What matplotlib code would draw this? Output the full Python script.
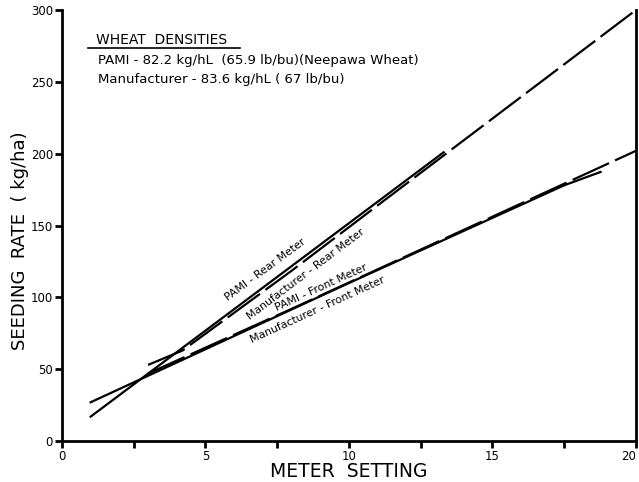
import matplotlib
matplotlib.use("Agg")
import matplotlib.pyplot as plt

# values
pami_rear_x = [1, 13.3]
pami_rear_y = [17, 201]
manu_rear_x = [3, 4.2, 8, 11, 20]
manu_rear_y = [53, 63, 118.5, 164, 300]
pami_front_x = [1, 10, 17.5]
pami_front_y = [27, 110, 178]
pami_front_ext_x = [17.5, 19]
pami_front_ext_y = [178, 189]
manu_front_x = [3, 8, 20]
manu_front_y = [47, 92, 202]

x_ticks = [0, 2.5, 5, 7.5, 10, 12.5, 15, 17.5, 20]
x_tick_labels = ["0", "", "5", "", "10", "", "15", "", "20"]
y_ticks = [0, 50, 100, 150, 200, 250, 300]

density_title = "WHEAT  DENSITIES"
density_lines = ["PAMI - 82.2 kg/hL  (65.9 lb/bu)(Neepawa Wheat)",
                 "Manufacturer - 83.6 kg/hL ( 67 lb/bu)"]

fig = plt.figure(figsize=(6.39, 4.82), dpi=100)
ax = fig.add_axes([0.097, 0.085, 0.898, 0.894])

dash = (18, 3)
ax.plot(pami_rear_x, pami_rear_y, color="black", lw=1.6)
ax.plot(manu_rear_x, manu_rear_y, color="black", lw=1.6, dashes=dash)
ax.plot(pami_front_x, pami_front_y, color="black", lw=1.6)
ax.plot(pami_front_ext_x, pami_front_ext_y, color="black", lw=1.6, dashes=dash)
ax.plot(manu_front_x, manu_front_y, color="black", lw=1.6, dashes=dash)

# labels written along the lines
ax.text(7.1, 119, "PAMI - Rear Meter", rotation=36.5, fontsize=7.8,
        ha="center", va="center")
ax.text(8.5, 116, "Manufacturer - Rear Meter", rotation=37, fontsize=7.8,
        ha="center", va="center")
ax.text(9.05, 107, "PAMI - Front Meter", rotation=24.5, fontsize=7.8,
        ha="center", va="center")
ax.text(8.9, 91, "Manufacturer - Front Meter", rotation=24.5, fontsize=7.8,
        ha="center", va="center")

# wheat density note
ax.text(0.059, 0.930, density_title, transform=ax.transAxes, fontsize=10,
        ha="left", va="center")
ax.plot([0.045, 0.31], [0.912, 0.912], transform=ax.transAxes,
        color="black", lw=1.2)
ax.text(0.063, 0.882, density_lines[0], transform=ax.transAxes, fontsize=9.5,
        ha="left", va="center")
ax.text(0.063, 0.838, density_lines[1], transform=ax.transAxes, fontsize=9.5,
        ha="left", va="center")

ax.set_xlim(0, 20)
ax.set_ylim(0, 300)
ax.set_xticks(x_ticks)
ax.set_xticklabels(x_tick_labels)
ax.get_xticklabels()[-1].set_ha("right")
ax.set_yticks(y_ticks)
ax.tick_params(direction="out", length=5, width=2, labelsize=8.5, pad=1.5)

ax.spines["top"].set_visible(False)
for s in ["left", "bottom", "right"]:
    ax.spines[s].set_linewidth(2)

ax.set_xlabel("METER  SETTING", fontsize=13.5, va="center")
ax.xaxis.set_label_coords(0.5, -0.071)
ax.set_ylabel("SEEDING  RATE  ( kg/ha)", fontsize=13, va="center")
ax.yaxis.set_label_coords(-0.073, 0.464)

fig.savefig("out.png", dpi=100)
